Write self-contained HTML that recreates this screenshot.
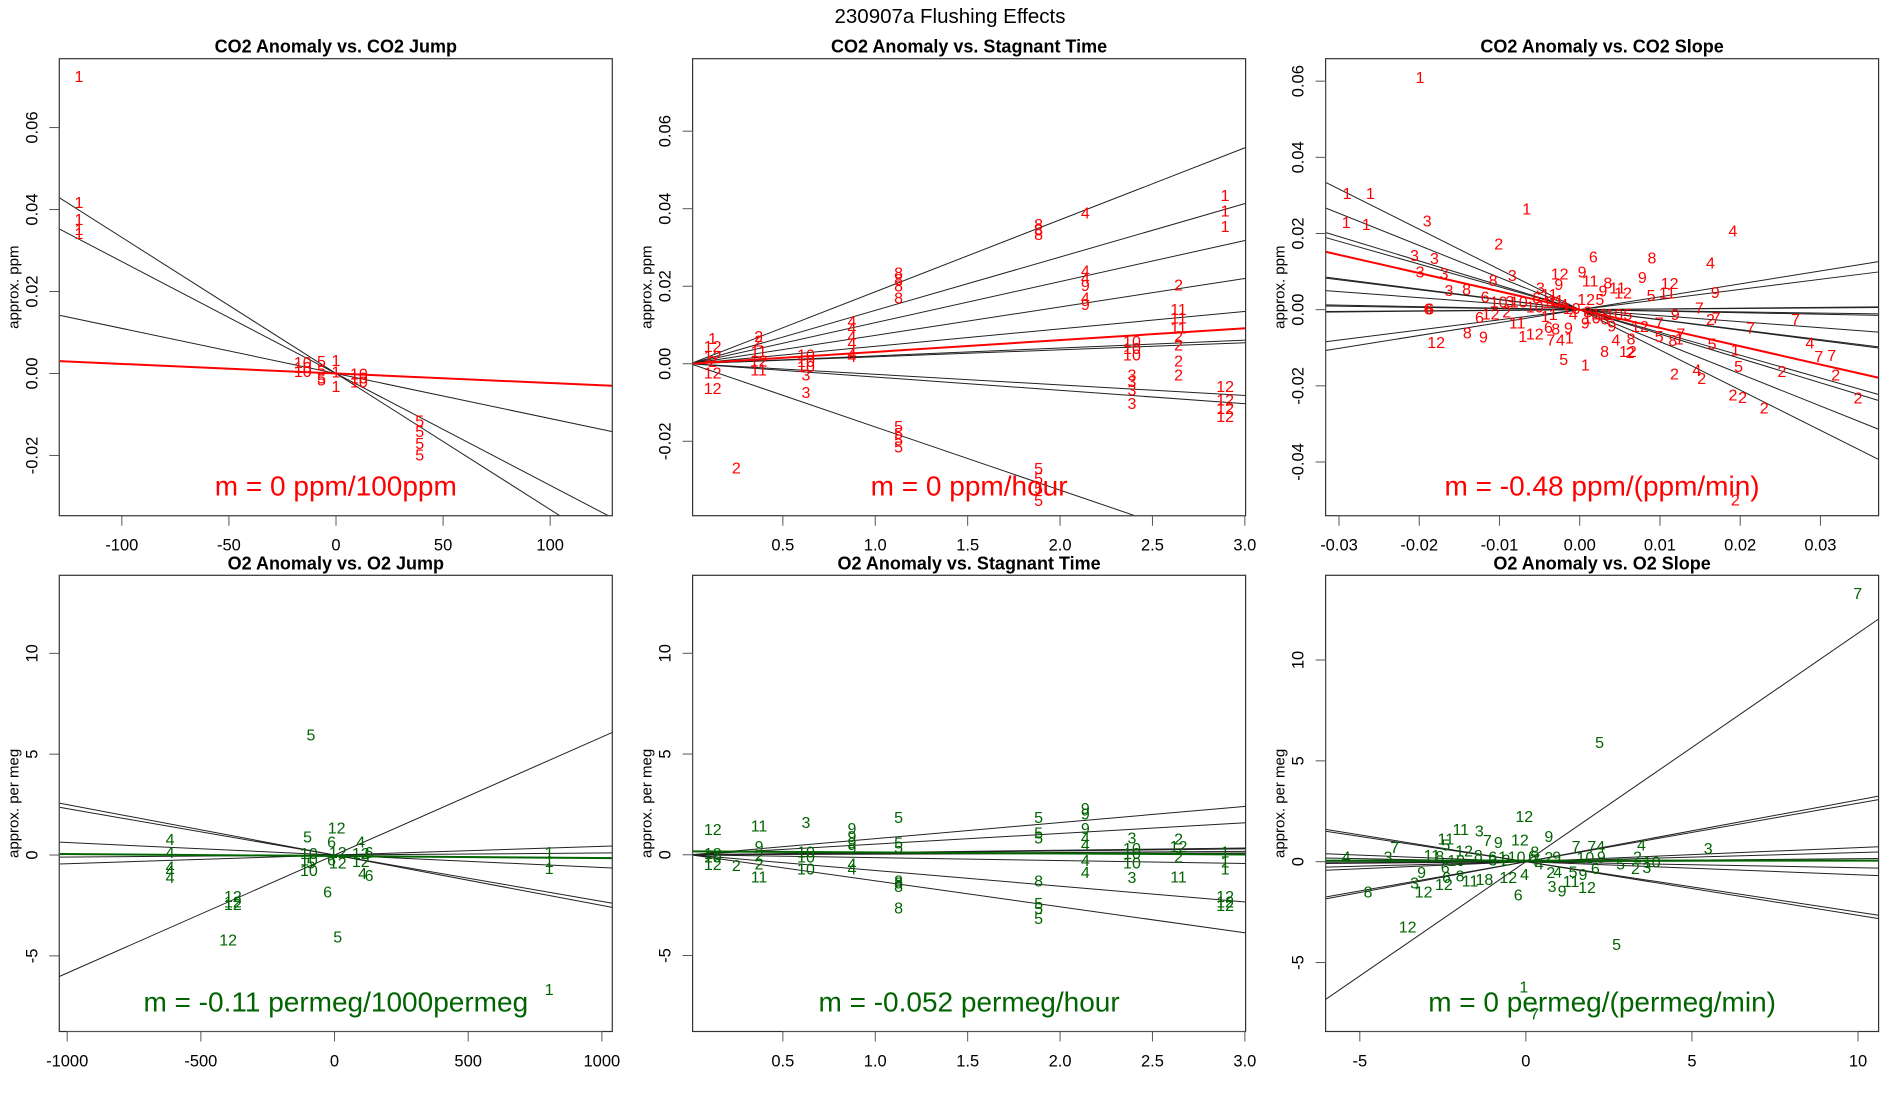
<!DOCTYPE html>
<html><head><meta charset="utf-8">
<style>
html,body{margin:0;padding:0;background:#fff;}
svg{display:block;font-family:"Liberation Sans",Arial,sans-serif;}
</style></head>
<body>
<svg id="chart" width="1900" height="1100" viewBox="0 0 1900 1100" xmlns="http://www.w3.org/2000/svg">
<rect x="0" y="0" width="1900" height="1100" fill="#fff"/>
<text x="950" y="23" font-size="20.5" text-anchor="middle" fill="#000">230907a   Flushing Effects</text>
<g id="panels"></g>
</svg>
<script>
// ---------- DATA ----------
// Panel 1: CO2 Anomaly vs CO2 Jump
const p1Labels = ["1","1","1","1","1","10","10","10","5","5","5","5","1","1","1","10","10","10","5","5","5","5"];
const p1X = [-120,-120,-120,-120,-120,-15.5,-15.5,-15.5,-6.8,-6.8,-6.8,-6.8,0,0,0,10.7,10.7,10.7,39.1,39.1,39.1,39.1];
const p1Y = [0.0726,0.0418,0.0377,0.0353,0.0343,0.0028,0.0016,0.0006,0.003,0.001,-0.001,-0.0015,0.0033,0.0005,-0.003,0.0,-0.001,-0.002,-0.0115,-0.014,-0.017,-0.0198];
const p1Slopes = [-0.000332,-0.000273,-0.00011];
const p1MeanSlope = -0.0000233;

// Panel 2: CO2 Anomaly vs Stagnant Time
const p2Labels = ["1","12","12","12","12","2","2","2","11","12","11","2","10","10","10","3","3","4","4","4","4","4","4","8","8","8","8","5","5","5","5","8","8","8","5","5","5","5","4","4","4","9","4","9","10","10","10","3","3","3","3","2","11","11","11","2","2","2","2","1","1","1","12","12","12","12"];
const p2X = [0.12,0.12,0.12,0.12,0.12,0.12,0.369,0.369,0.369,0.369,0.369,0.248,0.625,0.625,0.625,0.625,0.625,0.874,0.874,0.874,0.874,0.874,0.874,1.126,1.126,1.126,1.126,1.126,1.126,1.126,1.126,1.884,1.884,1.884,1.884,1.884,1.884,1.884,2.137,2.137,2.137,2.137,2.137,2.137,2.389,2.389,2.389,2.389,2.389,2.389,2.389,2.641,2.641,2.641,2.641,2.641,2.641,2.641,2.641,2.893,2.893,2.893,2.893,2.893,2.893,2.893];
const p2Y = [0.0067,0.0046,0.002,-0.0023,-0.0062,0.0007,0.0072,0.006,0.0033,0.0008,-0.0015,-0.0268,0.0024,0.0007,-0.0006,-0.0028,-0.0073,0.011,0.0093,0.0072,0.0055,0.0028,0.002,0.0236,0.0219,0.0202,0.0171,-0.0161,-0.0178,-0.0196,-0.0213,0.036,0.0347,0.0335,-0.0269,-0.0295,-0.0321,-0.0351,0.039,0.024,0.0222,0.0203,0.0171,0.0154,0.0059,0.0041,0.0024,-0.0028,-0.0045,-0.0066,-0.0101,0.0205,0.0141,0.0119,0.0093,0.0072,0.005,0.0009,-0.0028,0.0436,0.0395,0.0356,-0.0058,-0.0092,-0.0114,-0.0135];
const p2Slopes = [0.01857,0.01377,0.0106,0.00733,0.0045,0.00203,0.0018,-0.00273,-0.00343,-0.0163];
const p2MeanSlope = 0.00305;

// Panel 3: CO2 Anomaly vs CO2 Slope
const p3Labels = ["1","1","1","1","1","3","1","2","4","6","8","4","3","3","3","3","3","8","12","9","9","12","3","8","6","3","9","11","8","11","12","9","9","5","11","10","3","10","10","6","11","11","12","5","7","6","6","6","12","2","1","1","4","10","6","10","9","5","12","7","9","2","7","7","7","11","6","8","9","9","12","8","9","1","12","7","4","1","4","8","5","8","1","7","5","1","4","7","7","5","1","8","12","2","5","2","4","2","2","2","2","2","2","2","2","4","10","8","11","10"];
const p3X = [-0.0199,-0.029,-0.0261,-0.0291,-0.0266,-0.019,-0.0066,-0.0101,0.0191,0.0017,0.009,0.0163,-0.0206,-0.0181,-0.0199,-0.0169,-0.0084,-0.0108,-0.0025,0.0003,0.0078,0.0112,-0.0163,-0.0141,-0.0118,-0.0049,-0.0026,0.0013,0.0035,0.0047,0.0054,0.0029,0.0169,0.0089,0.0109,-0.0101,-0.0087,-0.0076,-0.0056,-0.0054,-0.0038,-0.003,0.0008,0.0025,0.0149,-0.0189,-0.0187,-0.0125,-0.0111,-0.0091,-0.0043,-0.0033,-0.0008,0.0015,0.0031,0.0043,0.004,0.006,0.0075,0.0099,0.0119,0.0163,0.017,0.0269,0.0213,-0.0078,-0.0039,-0.003,-0.0014,0.0007,-0.0179,-0.014,-0.012,-0.0071,-0.0056,-0.0036,-0.0024,-0.0013,0.0045,0.0064,0.0099,0.0116,0.0124,0.0126,0.0165,0.0194,0.0287,0.0298,0.0314,-0.002,0.0007,0.0031,0.006,0.0063,0.0198,0.0118,0.0146,0.0152,0.0252,0.0319,0.0191,0.0203,0.023,0.0347,0.0194,-0.002,-0.001,0.001,0.0025,-0.0035];
const p3Y = [0.0611,0.0306,0.0306,0.023,0.0225,0.0234,0.0265,0.0174,0.0208,0.0139,0.0137,0.0124,0.0144,0.0136,0.01,0.0096,0.0091,0.0078,0.0095,0.01,0.0086,0.007,0.0052,0.0054,0.0034,0.0058,0.0067,0.0076,0.0071,0.0058,0.0045,0.005,0.0047,0.0039,0.0045,0.0021,0.0023,0.0021,0.0008,0.0032,0.0041,0.0025,0.0028,0.0028,0.0006,0.0003,0.0003,-0.0019,-0.001,-0.0005,-0.0016,-0.0012,-0.001,-0.0021,-0.0023,-0.0012,-0.0041,-0.0012,-0.0043,-0.0034,-0.0012,-0.0025,-0.0021,-0.0025,-0.0047,-0.0034,-0.0045,-0.0049,-0.0047,-0.0034,-0.0085,-0.006,-0.0071,-0.0069,-0.0063,-0.0078,-0.0078,-0.0073,-0.0078,-0.0076,-0.0069,-0.008,-0.0076,-0.0063,-0.0089,-0.0104,-0.0086,-0.0121,-0.0119,-0.013,-0.0144,-0.0108,-0.0108,-0.0111,-0.0148,-0.0167,-0.0157,-0.0179,-0.0161,-0.017,-0.0223,-0.0229,-0.0257,-0.0231,-0.0499,0.0015,0.0005,-0.0005,-0.001,0.002];
const p3Slopes = [-1.056,-0.843,-0.64,-0.598,-0.27,-0.262,-0.158,-0.04,-0.03,0.02,0.015,0.266,0.339];
const p3MeanSlope = -0.48;

// Panel 4: O2 Anomaly vs O2 Jump
const p4Labels = ["5","12","5","6","4","4","4","4","4","10","10","10","5","12","6","12","4","12","6","12","4","6","6","12","12","12","12","5","1","1","1","1"];
const p4X = [-88,8,-101,-11,-615,-615,-615,-615,-615,-96,-96,-96,-88,12,-11,12,98,98,129,98,105,129,-26,-380,-380,-380,-398,12,803,803,803,803];
const p4Y = [5.98,1.36,0.92,0.66,0.8,0.14,-0.56,-0.77,-1.08,0.1,-0.21,-0.73,-0.38,0.14,-0.21,-0.38,0.66,0.1,0.14,-0.3,-0.9,-0.99,-1.81,-2.04,-2.3,-2.44,-4.18,-4.04,0.14,-0.3,-0.64,-6.65];
const p4Slopes = [0.00585,-0.0025,-0.0023,-0.00062,0.00043,0.0001];
const p4MeanSlope = -0.0001;
const p4MeanIntercept = -0.05;

// Panel 5: O2 Anomaly vs Stagnant Time
const p5Labels = ["12","11","3","5","5","9","9","9","9","9","9","5","5","5","5","9","4","4","3","10","10","10","3","2","12","2","11","1","1","1","12","12","12","4","4","10","11","2","9","2","2","12","12","10","8","8","8","8","8","5","5","5","4","4","10","10"];
const p5X = [0.121,0.371,0.625,1.126,1.884,2.137,2.137,0.874,0.874,0.874,0.874,1.126,1.126,1.884,1.884,2.137,2.137,2.137,2.389,2.389,2.389,2.389,2.389,2.641,2.641,2.641,2.641,2.893,2.893,2.893,2.893,2.893,2.893,0.874,0.874,0.625,0.371,0.371,0.371,0.371,0.248,0.121,0.121,0.121,1.126,1.126,1.126,1.126,1.884,1.884,1.884,1.884,2.137,2.137,0.625,0.625];
const p5Y = [1.28,1.46,1.63,1.88,1.88,2.31,2.05,1.32,0.94,0.6,0.34,0.6,0.38,1.11,0.86,1.32,0.86,0.51,0.86,0.34,0.09,-0.39,-1.11,0.8,0.43,-0.09,-1.08,0.17,-0.34,-0.68,-2.05,-2.31,-2.48,-0.43,-0.68,-0.68,-1.08,-0.43,0.43,0.0,-0.51,0.09,-0.46,-0.09,-1.28,-1.54,-1.37,-2.62,-1.28,-2.4,-2.65,-3.13,-0.26,-0.86,0.17,-0.09];
const p5Slopes = [0.8,0.53,0.113,0.097,0.057,0.03,-0.143,-0.78,-1.29];
const p5MeanSlope = -0.052;
const p5MeanIntercept = 0.17;

// Panel 6: O2 Anomaly vs O2 Slope
const p6Labels = ["7","5","12","11","3","9","7","9","12","11","5","7","3","4","4","3","7","74","11","8","12","10","8","6","1","10","8","2","9","10","9","2","10","5","2","3","6","6","9","6","8","11","12","3","12","8","18","12","4","2","4","5","9","11","12","3","9","6","12","5","1","7","6","4","2","3","7"];
const p6X = [9.99,2.22,-0.05,-1.96,-1.4,0.69,-1.16,-0.83,-0.18,-2.41,-2.41,-3.95,-4.15,-5.41,3.48,5.49,1.51,2.12,-2.83,-2.59,-1.86,-2.1,-1.43,-1.0,-0.7,-0.28,0.27,0.69,0.93,1.79,2.27,3.36,3.79,2.85,3.3,3.64,-2.43,2.09,-3.14,-2.39,-1.98,-1.68,-2.47,-3.35,-3.08,-4.75,-1.25,-0.53,-0.04,0.75,0.96,1.42,1.72,1.36,1.84,0.79,1.09,-0.23,-3.56,2.73,-0.06,0.26,0.2,0.4,-0.6,-1.0,0.3];
const p6Y = [13.33,5.93,2.27,1.62,1.54,1.28,1.08,0.97,1.11,1.15,0.85,0.74,0.26,0.26,0.85,0.68,0.77,0.77,0.34,0.29,0.56,0.09,0.34,0.26,0.26,0.26,0.51,0.22,0.26,0.22,0.26,0.26,0.0,-0.09,-0.31,-0.26,-0.26,-0.31,-0.51,-0.77,-0.68,-0.94,-1.11,-1.03,-1.49,-1.49,-0.85,-0.77,-0.6,-0.51,-0.48,-0.48,-0.6,-0.97,-1.25,-1.2,-1.42,-1.62,-3.21,-4.07,-6.2,-7.53,0.3,-0.1,0.1,0.1,0.1];
const p6Slopes = [1.133,-0.25,-0.266,0.306,0.29,0.07,0.045,-0.065,-0.03,0.015,0.005];
const p6MeanSlope = 0.0;
const p6MeanIntercept = 0.05;

// Tick values
const p1XTicks = [-100,-50,0,50,100];
const p1XTickLabels = ["-100","-50","0","50","100"];
const co2YTicks = [-0.02,0,0.02,0.04,0.06];
const co2YTickLabels = ["-0.02","0.00","0.02","0.04","0.06"];
const timeXTicks = [0.5,1,1.5,2,2.5,3];
const timeXTickLabels = ["0.5","1.0","1.5","2.0","2.5","3.0"];
const p3XTicks = [-0.03,-0.02,-0.01,0,0.01,0.02,0.03];
const p3XTickLabels = ["-0.03","-0.02","-0.01","0.00","0.01","0.02","0.03"];
const p3YTicks = [-0.04,-0.02,0,0.02,0.04,0.06];
const p3YTickLabels = ["-0.04","-0.02","0.00","0.02","0.04","0.06"];
const p4XTicks = [-1000,-500,0,500,1000];
const p4XTickLabels = ["-1000","-500","0","500","1000"];
const o2YTicks = [-5,0,5,10];
const o2YTickLabels = ["-5","0","5","10"];
const p6XTicks = [-5,0,5,10];
const p6XTickLabels = ["-5","0","5","10"];

// ---------- RENDER ----------
const NS = "http://www.w3.org/2000/svg";
const root = document.getElementById("panels");
function mk(tag, attrs, parent) {
  const e = document.createElementNS(NS, tag);
  for (const k in attrs) e.setAttribute(k, attrs[k]);
  parent.appendChild(e);
  return e;
}

const panels = [
  {id:"co2-jump", title:"CO2 Anomaly vs. CO2 Jump", ylab:"approx. ppm", col:"#ff0000", box:[59.3,58.7,553,457], xl:[-129.2,129.0], yl:[-0.0347,0.0768],
   labels:p1Labels, xs:p1X, ys:p1Y, slopes:p1Slopes, ms:p1MeanSlope, mb:0, mtext:"m = 0 ppm/100ppm",
   xt:p1XTicks, xtl:p1XTickLabels, yt:co2YTicks, ytl:co2YTickLabels},
  {id:"co2-time", title:"CO2 Anomaly vs. Stagnant Time", ylab:"approx. ppm", col:"#ff0000", box:[692.6,58.7,553,457], xl:[0.0116,3.004], yl:[-0.0392,0.0787],
   labels:p2Labels, xs:p2X, ys:p2Y, slopes:p2Slopes, ms:p2MeanSlope, mb:0, mtext:"m = 0 ppm/hour",
   xt:timeXTicks, xtl:timeXTickLabels, yt:co2YTicks, ytl:co2YTickLabels},
  {id:"co2-slope", title:"CO2 Anomaly vs. CO2 Slope", ylab:"approx. ppm", col:"#ff0000", box:[1325.6,58.7,553,457], xl:[-0.03167,0.03725], yl:[-0.0541,0.0659],
   labels:p3Labels, xs:p3X, ys:p3Y, slopes:p3Slopes, ms:p3MeanSlope, mb:0, mtext:"m = -0.48 ppm/(ppm/min)",
   xt:p3XTicks, xtl:p3XTickLabels, yt:p3YTicks, ytl:p3YTickLabels},
  {id:"o2-jump", title:"O2 Anomaly vs. O2 Jump", ylab:"approx. per meg", col:"#006400", box:[59.3,575.3,553,456.2], xl:[-1029.5,1039], yl:[-8.75,13.87],
   labels:p4Labels, xs:p4X, ys:p4Y, slopes:p4Slopes, ms:p4MeanSlope, mb:p4MeanIntercept, mtext:"m = -0.11 permeg/1000permeg",
   xt:p4XTicks, xtl:p4XTickLabels, yt:o2YTicks, ytl:o2YTickLabels},
  {id:"o2-time", title:"O2 Anomaly vs. Stagnant Time", ylab:"approx. per meg", col:"#006400", box:[692.6,575.3,553,456.2], xl:[0.0116,3.004], yl:[-8.77,13.87],
   labels:p5Labels, xs:p5X, ys:p5Y, slopes:p5Slopes, ms:p5MeanSlope, mb:p5MeanIntercept, mtext:"m = -0.052 permeg/hour",
   xt:timeXTicks, xtl:timeXTickLabels, yt:o2YTicks, ytl:o2YTickLabels},
  {id:"o2-slope", title:"O2 Anomaly vs. O2 Slope", ylab:"approx. per meg", col:"#006400", box:[1325.6,575.3,553,456.2], xl:[-6.03,10.62], yl:[-8.42,14.2],
   labels:p6Labels, xs:p6X, ys:p6Y, slopes:p6Slopes, ms:p6MeanSlope, mb:p6MeanIntercept, mtext:"m = 0 permeg/(permeg/min)",
   xt:p6XTicks, xtl:p6XTickLabels, yt:o2YTicks, ytl:o2YTickLabels}
];

panels.forEach((p, i) => {
  const [L, T, W, H] = p.box;
  const sx = v => L + (v - p.xl[0]) / (p.xl[1] - p.xl[0]) * W;
  const sy = v => T + H - (v - p.yl[0]) / (p.yl[1] - p.yl[0]) * H;
  const g = mk("g", {}, root);
  
  

  const cp = mk("clipPath", {id: "clip" + i}, g);
  mk("rect", {x: L, y: T, width: W, height: H}, cp);

  const t = mk("text", {x: L + W / 2, y: T - 6, "font-size": 18, "font-weight": "bold", "text-anchor": "middle", fill: "#000"}, g);
  t.textContent = p.title;
  
  

  const yt = mk("text", {x: 0, y: 0, "font-size": 15, "text-anchor": "middle", fill: "#000", transform: `translate(${L - 41},${T + H / 2}) rotate(-90)`}, g);
  yt.textContent = p.ylab;
  
  

  const lg = mk("g", {"clip-path": `url(#clip${i})`}, g);
  
  
  p.slopes.forEach(m => {
    const ln = mk("line", {x1: sx(p.xl[0]), y1: sy(m * p.xl[0]), x2: sx(p.xl[1]), y2: sy(m * p.xl[1]), stroke: "#222", "stroke-width": 1}, lg);
    
    
  });
  const ml = mk("line", {x1: sx(p.xl[0]), y1: sy(p.ms * p.xl[0] + p.mb), x2: sx(p.xl[1]), y2: sy(p.ms * p.xl[1] + p.mb), stroke: p.col, "stroke-width": 2}, lg);
  
  

  const pg = mk("g", {"clip-path": `url(#clip${i})`, "font-size": 16, "text-anchor": "middle", fill: p.col}, g);
  
  
  p.labels.forEach((lab, k) => {
    const tx = mk("text", {x: sx(p.xs[k]), y: sy(p.ys[k]) + 6}, pg);
    tx.textContent = lab;
    
    
  });

  const mt = mk("text", {x: L + W / 2, y: T + H - 20, "font-size": 28, "text-anchor": "middle", fill: p.col}, g);
  mt.textContent = p.mtext;
  
  

  const bx = mk("rect", {x: L, y: T, width: W, height: H, fill: "none", stroke: "#333", "stroke-width": 1.2}, g);
  
  

  const xa = mk("g", {}, g);
  
  
  mk("line", {x1: sx(p.xt[0]), y1: T + H, x2: sx(p.xt[p.xt.length - 1]), y2: T + H, stroke: "#555", "stroke-width": 1}, xa);
  p.xt.forEach((v, k) => {
    mk("line", {x1: sx(v), y1: T + H, x2: sx(v), y2: T + H + 10, stroke: "#555", "stroke-width": 1}, xa);
    const tl = mk("text", {x: sx(v), y: T + H + 35, "font-size": 16.5, "text-anchor": "middle", fill: "#000"}, xa);
    tl.textContent = p.xtl[k];
    
    
  });

  const ya = mk("g", {}, g);
  
  
  mk("line", {x1: L, y1: sy(p.yt[0]), x2: L, y2: sy(p.yt[p.yt.length - 1]), stroke: "#555", "stroke-width": 1}, ya);
  p.yt.forEach((v, k) => {
    mk("line", {x1: L - 10, y1: sy(v), x2: L, y2: sy(v), stroke: "#555", "stroke-width": 1}, ya);
    const tl = mk("text", {x: 0, y: 0, "font-size": 16.5, "text-anchor": "middle", fill: "#000", transform: `translate(${L - 22},${sy(v)}) rotate(-90)`}, ya);
    tl.textContent = p.ytl[k];
    
    
  });
});
</script>
</body></html>
